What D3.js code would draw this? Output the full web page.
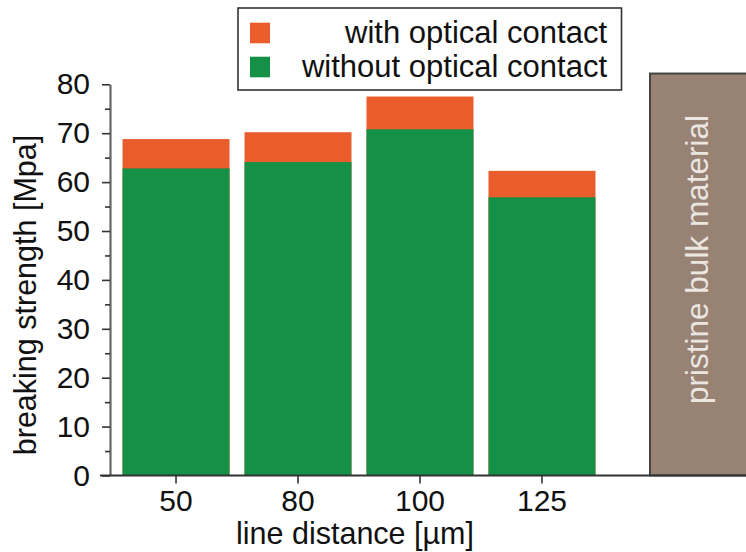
<!DOCTYPE html>
<html>
<head>
<meta charset="utf-8">
<script src="https://cdn.jsdelivr.net/npm/d3@7"></script>
<style>
  html, body { margin: 0; padding: 0; background: #fff; }
  svg { display: block; font-family: "Liberation Sans", Arial, sans-serif; }
</style>
</head>
<body>
<svg id="chart" width="746" height="552"></svg>
<script>
// ---- data ----
const categories = ["50", "80", "100", "125"];
const withContact = [68.8, 70.2, 77.5, 62.3];
const withoutContact = [62.8, 64.1, 70.8, 56.9];
const pristineLabel = "pristine bulk material";
const pristineValue = 82.2;
const yTicks = [0, 10, 20, 30, 40, 50, 60, 70, 80];
const yMinorTicks = [5, 15, 25, 35, 45, 55, 65, 75];
const seriesNames = ["with optical contact", "without optical contact"];

// ---- styles ----
const colorWith = "#e95c2b";
const colorWithout = "#149146";
const colorPristine = "#978274";

const W = 746, H = 552;
const svg = d3.select("#chart");

const y = d3.scaleLinear().domain([0, 80]).range([475.5, 84.3]);
const x = d3.scaleBand().domain(categories).range([114, 604])
  .paddingInner(0.123).paddingOuter(0.07);

const data = categories.map((c, i) => ({ c, w: withContact[i], wo: withoutContact[i] }));

// bars: full "with" bar behind, "without" bar in front
svg.append("g").selectAll("rect").data(data).join("rect")
  .attr("x", d => x(d.c)).attr("width", x.bandwidth())
  .attr("y", d => y(d.w)).attr("height", d => y(0) - y(d.w))
  .attr("fill", colorWith);
svg.append("g").selectAll("rect").data(data).join("rect")
  .attr("x", d => x(d.c)).attr("width", x.bandwidth())
  .attr("y", d => y(d.wo)).attr("height", d => y(0) - y(d.wo))
  .attr("fill", colorWithout);

// pristine bar
const px0 = 650;
const pg = svg.append("g");
pg.append("rect")
  .attr("x", px0).attr("width", W - px0 + 10)
  .attr("y", y(pristineValue)).attr("height", y(0) - y(pristineValue))
  .attr("fill", colorPristine).attr("stroke", "#444").attr("stroke-width", 2);
pg.append("text")
  .attr("transform", `translate(${px0 + 47},${(y(pristineValue) + y(0)) / 2 - 15}) rotate(-90)`)
  .attr("text-anchor", "middle").attr("dominant-baseline", "central")
  .attr("font-size", 31.5).attr("fill", "#ebe6e1")
  .text(pristineLabel);

// y axis
const yAxis = svg.append("g").attr("transform", "translate(110,0)")
  .call(d3.axisLeft(y).tickValues(yTicks).tickSize(8).tickSizeOuter(0).tickPadding(12));
yAxis.select(".domain").attr("stroke", "#666").attr("stroke-width", 2.2);
yAxis.selectAll(".tick line").attr("stroke", "#333").attr("stroke-width", 1.6);
yAxis.selectAll(".tick text").attr("font-size", 30).attr("fill", "#111")
  .attr("font-family", "Liberation Sans, Arial, sans-serif");
const yMinor = svg.append("g").attr("transform", "translate(110,0)")
  .call(d3.axisLeft(y).tickValues(yMinorTicks).tickSize(5).tickFormat(""));
yMinor.select(".domain").remove();
yMinor.selectAll(".tick line").attr("stroke", "#333").attr("stroke-width", 1.6);

// x axis
const xAxis = svg.append("g").attr("transform", `translate(0,${y(0)})`)
  .call(d3.axisBottom(x).tickSize(8).tickSizeOuter(0).tickPadding(6));
xAxis.select(".domain").remove();
xAxis.selectAll(".tick line").attr("stroke", "#333").attr("stroke-width", 1.6);
xAxis.selectAll(".tick text").attr("font-size", 30).attr("fill", "#111")
  .attr("font-family", "Liberation Sans, Arial, sans-serif");
svg.append("line").attr("x1", 100).attr("x2", W).attr("y1", y(0)).attr("y2", y(0))
  .attr("stroke", "#333").attr("stroke-width", 2);

// axis titles
svg.append("text")
  .attr("transform", `translate(36,295) rotate(-90)`)
  .attr("text-anchor", "middle").attr("font-size", 30.5).attr("fill", "#111")
  .text("breaking strength [Mpa]");
svg.append("text")
  .attr("x", 355).attr("y", 544)
  .attr("text-anchor", "middle").attr("font-size", 30.5).attr("fill", "#111")
  .text("line distance [µm]");

// legend
const lg = svg.append("g");
lg.append("rect").attr("x", 238).attr("y", 8).attr("width", 383.5).attr("height", 82)
  .attr("fill", "#fff").attr("stroke", "#333").attr("stroke-width", 1.6);
const legendColors = [colorWith, colorWithout];
seriesNames.forEach((name, i) => {
  const by = 43.3 + i * 34;
  lg.append("rect").attr("x", 250).attr("y", by - 20.6).attr("width", 20).attr("height", 20.6)
    .attr("fill", legendColors[i]);
  lg.append("text").attr("x", 607).attr("y", by).attr("text-anchor", "end")
    .attr("font-size", 31).attr("fill", "#111").text(name);
});
</script>
</body>
</html>
